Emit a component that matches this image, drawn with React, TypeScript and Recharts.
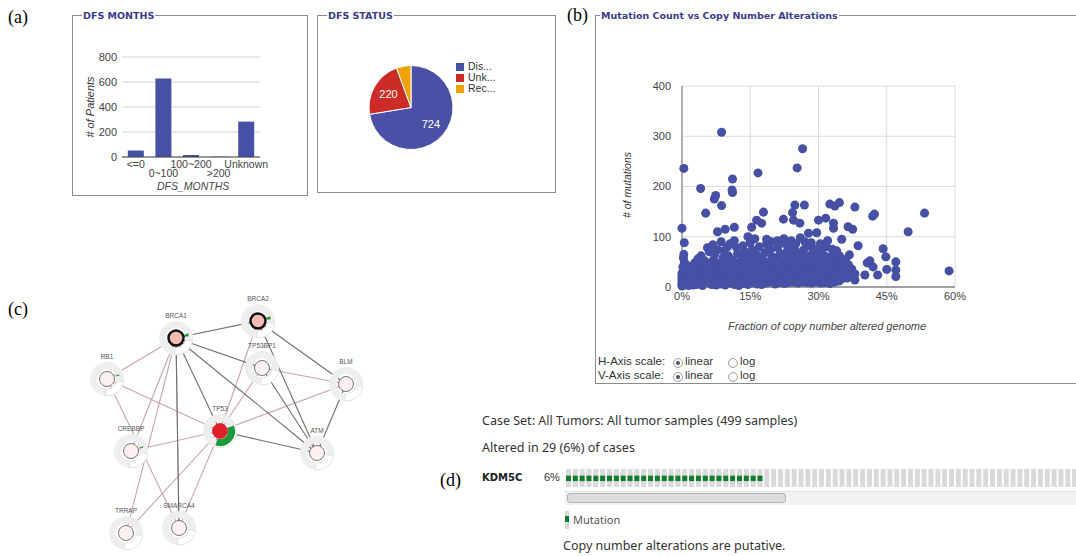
import React from 'react'
import {
  BarChart, Bar, XAxis, YAxis, CartesianGrid, PieChart, Pie, Cell, Legend,
  ScatterChart, Scatter, ZAxis, ReferenceLine,
} from 'recharts'

// (a) DFS months histogram
const DFS_MONTH_BINS = ['<=0', '0~100', '100~200', '>200', 'Unknown']
const DFS_MONTH_PATIENTS = [52, 629, 16, 2, 283]

// (a) DFS status pie
const DFS_STATUS_NAMES = ['Dis...', 'Unk...', 'Rec...']
const DFS_STATUS_COUNTS = [724, 220, 56]
const DFS_STATUS_COLORS = ['#4a50a5', '#cc2b27', '#eea207']

// (b) fraction of genome altered (%) vs mutation count
const OUTLIER_POINTS: [number, number][] = [
  [8.7, 308], [0.4, 236], [11.1, 215], [16.7, 227], [25.3, 237], [26.5, 275], [4.1, 196], [11, 193],
  [7.4, 182], [7.1, 175], [11.1, 188], [8.7, 162], [5.2, 147], [0, 117], [0.5, 88], [9.5, 115],
  [11.5, 119], [7.8, 110], [17.9, 149], [15.3, 119], [16.4, 133], [17.5, 127], [24.8, 163], [26.9, 163],
  [22.3, 135], [24.3, 148], [25.9, 127], [24.5, 133], [30, 133], [27.8, 107], [29.6, 108], [31.6, 137],
  [32.5, 165], [33.6, 161], [34.6, 168], [33.3, 127], [33.3, 117], [36.5, 120], [37.5, 115], [38, 159],
  [35.1, 95], [38.7, 82], [41.9, 141], [42.3, 145], [49.7, 110], [53.3, 147], [58.7, 32], [40.7, 48],
  [41.3, 52], [44.2, 76], [44.8, 60], [47, 50], [45, 35], [42, 40], [43, 24], [47, 34], [47, 21],
  [40.2, 24], [38, 26], [38, 14], [36.2, 31], [36.8, 64], [35, 57],
]
const CLUSTER_POINTS: [number, number][] = [
  [0, 2], [0, 5], [0, 9], [0, 14], [0, 18], [0, 22], [0, 27], [0.3, 33], [0.2, 40], [0.5, 50], [0.3, 58],
  [0.4, 65], [0.6, 12], [0.8, 24], [1, 7], [1.2, 17], [1.1, 30], [1.5, 3], [1.6, 21], [1.8, 11], [2, 26],
  [2, 36], [1.4, 42], [2.3, 8], [2.5, 15], [2.7, 28], [3, 19], [3, 40], [3.2, 5], [3.4, 24], [3.6, 33],
  [3.8, 12], [4, 45], [4.1, 21], [4.3, 29], [4.5, 9], [4.7, 38], [4.9, 17], [5, 52], [3.5, 56], [2.8, 48],
  [4.2, 62], [5.3, 26], [5.5, 11], [5.7, 34], [5.9, 20], [6.1, 44], [6.3, 7], [6.5, 30], [6.7, 16],
  [6.9, 54], [7.1, 25], [7.3, 38], [7.5, 13], [7.7, 47], [7.9, 22], [8, 33], [6, 70], [7.2, 65], [5.6, 78],
  [6.8, 84], [7.8, 74], [8.2, 10], [8.4, 28], [8.6, 42], [8.8, 18], [9, 58], [9.2, 35], [9.4, 24],
  [9.6, 48], [9.8, 14], [10, 30], [10.2, 62], [10.4, 20], [10.6, 40], [10.8, 8], [11, 53], [9.2, 72],
  [10, 80], [10.6, 86], [8.6, 90], [11.2, 26], [11.4, 36], [11.6, 15], [11.8, 48], [12, 22], [12.2, 66],
  [12.4, 32], [12.6, 11], [12.8, 44], [13, 27], [13.2, 57], [13.4, 18], [13.6, 38], [13.8, 70], [14, 25],
  [12, 78], [13.4, 82], [11.5, 92], [14.2, 13], [14.4, 46], [14.6, 30], [14.8, 60], [15, 20], [15.2, 40],
  [15.4, 74], [15.6, 27], [15.8, 52], [16, 16], [16.2, 35], [16.4, 64], [16.6, 24], [16.8, 46], [17, 80],
  [15, 88], [16, 96], [14.5, 100], [17.2, 12], [17.4, 33], [17.6, 55], [17.8, 22], [18, 42], [18.2, 68],
  [18.4, 28], [18.6, 86], [18.8, 18], [19, 50], [19.2, 36], [19.4, 74], [19.6, 24], [19.8, 60], [20, 44],
  [18.6, 95], [19.6, 90], [19, 82], [20.2, 15], [20.4, 32], [20.6, 58], [20.8, 26], [21, 78], [21.2, 40],
  [21.4, 20], [21.6, 66], [21.8, 48], [22, 30], [22.2, 88], [22.4, 18], [22.6, 54], [22.8, 38], [23, 70],
  [21, 92], [22.4, 96], [23, 84], [23.2, 24], [23.4, 46], [23.6, 14], [23.8, 62], [24, 34], [24.2, 80],
  [24.4, 22], [24.6, 52], [24.8, 40], [25, 72], [25.2, 28], [25.4, 58], [25.6, 16], [25.8, 44], [26, 66],
  [24, 92], [25, 86], [26, 98], [26.2, 30], [26.4, 50], [26.6, 20], [26.8, 74], [27, 38], [27.2, 60],
  [27.4, 26], [27.6, 48], [27.8, 82], [28, 34], [28.2, 56], [28.4, 18], [28.6, 66], [28.8, 42], [29, 28],
  [27, 90], [28.4, 88], [29, 76], [29.2, 52], [29.4, 22], [29.6, 64], [29.8, 36], [30, 46], [30.2, 14],
  [30.4, 70], [30.6, 30], [30.8, 56], [31, 40], [31.2, 24], [31.4, 62], [31.6, 34], [31.8, 50], [32, 20],
  [30.4, 86], [31.6, 80], [32, 92], [32.2, 44], [32.4, 28], [32.6, 58], [32.8, 16], [33, 38], [33.2, 66],
  [33.4, 24], [33.6, 48], [33.8, 32], [34, 56], [34.2, 20], [34.4, 42], [34.6, 62], [34.8, 26], [35, 36],
  [33, 75], [34, 72], [35.2, 48], [35.4, 22], [35.6, 40], [35.8, 30], [36, 54], [36.3, 18], [36.6, 44],
  [37, 28], [37.3, 36], [37.6, 20],
]
const LOW_POINTS: [number, number][] = [
  [0.5, 4], [1.5, 13], [2.5, 4], [3.5, 14], [4.5, 3], [5.5, 15], [6.5, 5], [7.5, 4], [8.5, 6], [9.5, 4],
  [10.5, 13], [11.5, 5], [12.5, 3], [13.5, 7], [14.5, 5], [15.5, 9], [16.5, 6], [17.5, 5], [18.5, 8],
  [19.5, 10], [20.5, 6], [21.5, 9], [22.5, 7], [23.5, 9], [24.5, 10], [25.5, 8], [26.5, 10], [27.5, 9],
  [28.5, 8], [29.5, 10], [30.5, 8], [31.5, 9], [32.5, 7], [33.5, 10], [34.5, 12],
  [1, 32], [2, 20], [3, 28], [4, 12], [5, 36], [6, 20], [7, 30], [8, 12], [9, 28], [10, 10], [11, 18],
  [12, 40], [13, 12], [14, 34], [15, 28], [16, 44], [17, 20], [18, 14], [19, 26], [20, 22], [21, 30],
  [22, 14], [23, 20], [24, 14], [25, 36], [26, 22], [27, 16], [28, 24], [29, 16], [30, 30], [31, 16],
  [32, 34], [33, 18], [34, 30], [35, 16], [36, 28],
]
const H_TICKS = [0, 15, 30, 45, 60]
const V_TICKS = [0, 100, 200, 300, 400]

// (c) network: layout coordinates, alteration frequency (%)
const NODE_GENES = ['BRCA1', 'BRCA2', 'TP53BP1', 'RB1', 'BLM', 'TP53', 'CREBBP', 'ATM', 'TRRAP', 'SMARCA4']
const NODE_X = [116, 198, 202, 47, 286, 160, 71, 257, 66, 119]
const NODE_Y = [58, 41, 88, 99, 104, 151, 171, 173, 253, 248]
const NODE_ALTERED = [4, 4, 0, 1, 0, 36, 1, 0, 0, 0]
const SEED_GENES = ['BRCA1', 'BRCA2']
const PPI_EDGES: [string, string][] = [
  ['BRCA1', 'RB1'], ['BRCA1', 'CREBBP'], ['BRCA1', 'TRRAP'], ['BRCA1', 'SMARCA4'], ['RB1', 'TP53'],
  ['RB1', 'SMARCA4'], ['TP53', 'CREBBP'], ['TP53', 'TRRAP'], ['TP53', 'SMARCA4'], ['TP53', 'BLM'],
  ['TP53', 'TP53BP1'], ['BRCA2', 'TP53'], ['TP53BP1', 'BLM'],
]
const COMPLEX_EDGES: [string, string][] = [
  ['BRCA1', 'BRCA2'], ['BRCA1', 'TP53BP1'], ['BRCA1', 'ATM'], ['BRCA1', 'TP53'], ['BRCA2', 'BLM'],
  ['BRCA2', 'ATM'], ['TP53BP1', 'ATM'], ['BLM', 'ATM'], ['TP53', 'ATM'], ['BRCA1', 'SMARCA4'],
]

// (d) oncoprint of KDM5C, visible samples (1 = mutated)
const KDM5C_MUTATED = [
  1, 1, 1, 1, 1, 1, 1, 1, 1, 1, 1, 1, 1, 1, 1, 1, 1, 1, 1, 1, 1, 1, 1, 1, 1, 1, 1, 1, 1,
  0, 0, 0, 0, 0, 0, 0, 0, 0, 0, 0, 0, 0, 0, 0, 0, 0, 0, 0, 0, 0, 0, 0, 0, 0, 0, 0, 0, 0,
  0, 0, 0, 0, 0, 0, 0, 0, 0, 0, 0, 0, 0, 0, 0, 0, 0,
]

const BLUE = '#4650a5'
const SANS = 'Arial, "Liberation Sans", sans-serif'
const TITLE_FONT = '"DejaVu Sans", Verdana, sans-serif'
const SERIF = '"Liberation Serif", "Times New Roman", serif'

const monthsData = DFS_MONTH_BINS.map((bin, i) => ({ bin, patients: DFS_MONTH_PATIENTS[i] }))
const statusData = DFS_STATUS_NAMES.map((name, i) => ({ name, value: DFS_STATUS_COUNTS[i] }))
const scatterData = [...OUTLIER_POINTS, ...CLUSTER_POINTS, ...LOW_POINTS].map(([pct, mut]) => ({ pct, mut }))
const nodeData = NODE_GENES.map((gene, i) => ({ gene, x: NODE_X[i], y: NODE_Y[i], altered: NODE_ALTERED[i] }))
const oncoData = KDM5C_MUTATED.map((m, i) => ({ id: i, v: 1, mut: m }))

function nodeOf(gene: string) {
  return nodeData.find((n) => n.gene === gene)!
}

function Frame({ left, top, width, height, title, titleOffset = 9 }: any) {
  return (
    <div style={{ position: 'absolute', left, top, width, height, border: '1px solid #8c8c8c', boxSizing: 'border-box' }}>
      <span style={{
        position: 'absolute', left: titleOffset, top: -7, background: '#fff', padding: '0 1px',
        fontFamily: TITLE_FONT, fontWeight: 'bold', fontSize: 9.5, lineHeight: '13px', color: '#3b3b8e',
        whiteSpace: 'nowrap',
      }}>{title}</span>
    </div>
  )
}

function Txt({ x, y, size = 12, children, style }: any) {
  return (
    <div style={{
      position: 'absolute', left: x, top: y - size * 0.6, fontSize: size, lineHeight: `${size * 1.2}px`,
      whiteSpace: 'nowrap', ...style,
    }}>{children}</div>
  )
}

function Rotated({ x, y, children, style }: any) {
  return (
    <div style={{
      position: 'absolute', left: x, top: y, transform: 'translate(-50%,-50%) rotate(-90deg)',
      whiteSpace: 'nowrap', ...style,
    }}>{children}</div>
  )
}

function StaggerTick({ x, y, payload, index }: any) {
  const dy = index % 2 === 0 ? 10.5 : 20
  return (
    <text x={x} y={y + dy} textAnchor="middle" fontSize={10.5} fill="#444" fontFamily={SANS}>{payload.value}</text>
  )
}

function DfsMonthsChart() {
  return (
    <div style={{ position: 'absolute', left: 72, top: 40 }}>
      <BarChart width={200} height={150} data={monthsData} margin={{ top: 17, right: 12, bottom: 3, left: 14 }}
        barCategoryGap="21%">
        <CartesianGrid vertical={false} stroke="#d4d4d4" />
        <XAxis dataKey="bin" interval={0} tick={<StaggerTick />} tickLine={false} tickSize={0} tickMargin={0}
          height={30} axisLine={{ stroke: '#444' }} />
        <YAxis domain={[0, 800]} ticks={[0, 200, 400, 600, 800]} width={36} tickLine={false} axisLine={false}
          tickSize={3} tickMargin={2} tick={{ fontSize: 11, fill: '#444', fontFamily: SANS }} />
        <Bar dataKey="patients" fill={BLUE} isAnimationActive={false} />
      </BarChart>
    </div>
  )
}

const RADIAN = Math.PI / 180
function sliceLabel({ cx, cy, midAngle, outerRadius, value, index }: any) {
  if (index > 1) return null
  const r = outerRadius * 0.62
  const x = cx + r * Math.cos(-midAngle * RADIAN)
  const y = cy + r * Math.sin(-midAngle * RADIAN)
  return (
    <text x={x} y={y} fill="#fff" textAnchor="middle" dominantBaseline="central" fontSize={11} fontFamily={SANS}>
      {value}
    </text>
  )
}

function DfsStatusChart() {
  return (
    <div style={{ position: 'absolute', left: 320, top: 20 }}>
      <PieChart width={230} height={170} margin={{ top: 0, right: 0, bottom: 0, left: 0 }}>
        <Pie data={statusData} dataKey="value" nameKey="name" cx={91} cy={87.5} outerRadius={42}
          startAngle={90} endAngle={-270} stroke="#fff" strokeWidth={1} label={sliceLabel} labelLine={false}
          isAnimationActive={false}>
          {statusData.map((d, i) => <Cell key={d.name} fill={DFS_STATUS_COLORS[i]} />)}
        </Pie>
        <Legend layout="vertical" align="right" verticalAlign="top" iconType="square" iconSize={8}
          itemSorter={(item: any) => DFS_STATUS_NAMES.indexOf(item.value)}
          formatter={(v: string) => <span style={{ color: '#333' }}>{v}</span>}
          wrapperStyle={{ left: 136, top: 41, width: 60, fontSize: 10.5, lineHeight: '11px', fontFamily: SANS }} />
      </PieChart>
    </div>
  )
}

function MutationScatter() {
  return (
    <div style={{ position: 'absolute', left: 620, top: 70 }}>
      <ScatterChart width={350} height={240} margin={{ top: 16, right: 15, bottom: 3, left: 22 }}>
        <CartesianGrid stroke="#dcdcdc" />
        <XAxis type="number" dataKey="pct" domain={[0, 60]} ticks={H_TICKS} tickFormatter={(v) => `${v}%`}
          height={20} tickLine={false} tickSize={2} tickMargin={3} axisLine={{ stroke: '#555' }}
          tick={{ fontSize: 11, fill: '#444', fontFamily: SANS }} />
        <YAxis type="number" dataKey="mut" domain={[0, 400]} ticks={V_TICKS} width={40} tickLine={false}
          tickSize={3} tickMargin={8} axisLine={{ stroke: '#777' }}
          tick={{ fontSize: 11, fill: '#444', fontFamily: SANS }} />
        <ZAxis range={[50, 50]} />
        <Scatter data={scatterData} fill={BLUE} isAnimationActive={false} />
      </ScatterChart>
    </div>
  )
}

function annulus(cx: number, cy: number, r0: number, r1: number, a0: number, a1: number) {
  const p = (r: number, a: number) => `${cx + r * Math.cos(a * RADIAN)},${cy + r * Math.sin(a * RADIAN)}`
  const large = a1 - a0 > 180 ? 1 : 0
  return `M${p(r1, a0)} A${r1},${r1} 0 ${large} 1 ${p(r1, a1)} L${p(r0, a1)} A${r0},${r0} 0 ${large} 0 ${p(r0, a0)} Z`
}

function GeneNode({ cx, cy, payload }: any) {
  const seed = SEED_GENES.includes(payload.gene)
  const isHub = payload.altered > 20
  const sweep = payload.altered * 3.6
  return (
    <g>
      <circle cx={cx} cy={cy} r={13.5} fill="none" stroke="#eeeeee" strokeWidth={7} />
      <path d={annulus(cx, cy, 10, 17, 10, 95)} fill="#fff" stroke="#d4d4d4" strokeWidth={0.6} />
      {payload.altered > 0 && (
        <path d={annulus(cx, cy, isHub ? 8 : 9, isHub ? 15 : 13, -22, -22 + Math.max(sweep, 6))}
          fill="#1c9a3c" />
      )}
      <circle cx={cx} cy={cy} r={7.5}
        fill={isHub ? '#e0202a' : seed ? '#f6bcb4' : '#fdf1ef'}
        stroke={isHub ? '#e0202a' : seed ? '#111' : '#555'} strokeWidth={seed ? 2.5 : 0.8} />
      <text x={cx} y={cy - 20.5} textAnchor="middle" fontSize={6.5} fill="#555" fontFamily={SANS}>{payload.gene}</text>
    </g>
  )
}

function NetworkChart() {
  return (
    <div style={{ position: 'absolute', left: 60, top: 280 }}>
      <ScatterChart width={320} height={276} margin={{ top: 0, right: 0, bottom: 0, left: 0 }}>
        <XAxis type="number" dataKey="x" domain={[0, 320]} hide />
        <YAxis type="number" dataKey="y" domain={[0, 276]} reversed hide />
        {PPI_EDGES.map(([a, b]) => {
          const s = nodeOf(a), t = nodeOf(b)
          return <ReferenceLine key={`p${a}${b}`} segment={[{ x: s.x, y: s.y }, { x: t.x, y: t.y }]}
            stroke="#c9a2b6" strokeWidth={1.1} ifOverflow="visible" />
        })}
        {COMPLEX_EDGES.map(([a, b]) => {
          const s = nodeOf(a), t = nodeOf(b)
          return <ReferenceLine key={`c${a}${b}`} segment={[{ x: s.x, y: s.y }, { x: t.x, y: t.y }]}
            stroke="#707070" strokeWidth={1.1} ifOverflow="visible" />
        })}
        <Scatter data={nodeData} shape={<GeneNode />} isAnimationActive={false} />
      </ScatterChart>
    </div>
  )
}

function OncoCell({ x, y, width, height, payload }: any) {
  return (
    <g>
      <rect x={x} y={y} width={width} height={height} fill="#d9d9d9" />
      {payload.mut === 1 && <rect x={x} y={y + height * 0.37} width={width} height={height * 0.3} fill="#0f7d2d" />}
    </g>
  )
}

function OncoPrint() {
  return (
    <div style={{ position: 'absolute', left: 565, top: 469 }}>
      <BarChart width={513} height={18} data={oncoData} margin={{ top: 0, right: 0, bottom: 0, left: 0 }}
        barCategoryGap="14%">
        <XAxis dataKey="id" hide />
        <YAxis domain={[0, 1]} hide />
        <Bar dataKey="v" shape={<OncoCell />} isAnimationActive={false} />
      </BarChart>
    </div>
  )
}

function Radio({ x, y, on }: any) {
  return (
    <div style={{
      position: 'absolute', left: x, top: y - 4.5, width: 8, height: 8, borderRadius: '50%',
      border: '1px solid #a5a5a5', background: 'radial-gradient(circle, #fff 40%, #e6e6e6 100%)',
    }}>
      {on && <div style={{ position: 'absolute', left: 2, top: 2, width: 4, height: 4, borderRadius: '50%', background: '#555' }} />}
    </div>
  )
}

export default function App() {
  return (
    <div style={{ position: 'absolute', left: 0, top: 0, width: 1076, height: 556, overflow: 'hidden', background: '#fff', fontFamily: SANS }}>
      <Txt x={8} y={18} size={18} style={{ fontFamily: SERIF }}>(a)</Txt>
      <Txt x={567} y={16} size={18} style={{ fontFamily: SERIF }}>(b)</Txt>
      <Txt x={8} y={310} size={18} style={{ fontFamily: SERIF }}>(c)</Txt>
      <Txt x={440} y={481} size={18} style={{ fontFamily: SERIF }}>(d)</Txt>

      <Frame left={72} top={15} width={236} height={181} title="DFS MONTHS" />
      <DfsMonthsChart />
      <Rotated x={90} y={107} style={{ fontSize: 11, fontStyle: 'italic', color: '#333' }}># of Patients</Rotated>
      <Txt x={157} y={186} size={10.5} style={{ fontStyle: 'italic', color: '#444' }}>DFS_MONTHS</Txt>

      <Frame left={317} top={15} width={239} height={178} title="DFS STATUS" />
      <DfsStatusChart />

      <Frame left={595} top={15} width={500} height={369} title="Mutation Count vs Copy Number Alterations" titleOffset={4} />
      <MutationScatter />
      <Rotated x={627} y={185} style={{ fontSize: 10.5, fontStyle: 'italic', color: '#333' }}># of mutations</Rotated>
      <Txt x={728} y={327} size={11} style={{ fontStyle: 'italic', color: '#444' }}>Fraction of copy number altered genome</Txt>
      <Txt x={598} y={362} size={11.5} style={{ color: '#333' }}>H-Axis scale:</Txt>
      <Txt x={598} y={376} size={11.5} style={{ color: '#333' }}>V-Axis scale:</Txt>
      <Radio x={673} y={362} on />
      <Radio x={673} y={376} on />
      <Radio x={728} y={362} />
      <Radio x={728} y={376} />
      <Txt x={685} y={362} size={11.5} style={{ color: '#333' }}>linear</Txt>
      <Txt x={685} y={376} size={11.5} style={{ color: '#333' }}>linear</Txt>
      <Txt x={740} y={362} size={11.5} style={{ color: '#333' }}>log</Txt>
      <Txt x={740} y={376} size={11.5} style={{ color: '#333' }}>log</Txt>

      <NetworkChart />

      <Txt x={482} y={420} size={12.5} style={{ color: '#333', fontFamily: '"Noto Sans", sans-serif' }}>Case Set: All Tumors: All tumor samples (499 samples)</Txt>
      <Txt x={482} y={447} size={12.5} style={{ color: '#333', fontFamily: '"Noto Sans", sans-serif' }}>Altered in 29 (6%) of cases</Txt>
      <Txt x={482} y={478} size={10} style={{ color: '#222', fontWeight: 'bold', fontFamily: TITLE_FONT }}>KDM5C</Txt>
      <Txt x={544} y={478} size={11} style={{ color: '#333' }}>6%</Txt>
      <OncoPrint />
      <div style={{ position: 'absolute', left: 565, top: 491, width: 520, height: 13, background: '#f2f2f2', borderTop: '1px solid #e4e4e4' }} />
      <div style={{ position: 'absolute', left: 567, top: 493, width: 217, height: 8, background: '#dcdcdc', border: '1px solid #b4b4b4', borderRadius: 3 }} />
      <div style={{ position: 'absolute', left: 565, top: 511, width: 4, height: 18, background: '#d9d9d9' }} />
      <div style={{ position: 'absolute', left: 565, top: 516, width: 4, height: 6, background: '#0f7d2d' }} />
      <Txt x={573} y={520} size={11} style={{ color: '#555', fontFamily: '"Noto Sans", sans-serif' }}>Mutation</Txt>
      <Txt x={563} y={545} size={12.5} style={{ color: '#333', fontFamily: '"Noto Sans", sans-serif' }}>Copy number alterations are putative.</Txt>
    </div>
  )
}
